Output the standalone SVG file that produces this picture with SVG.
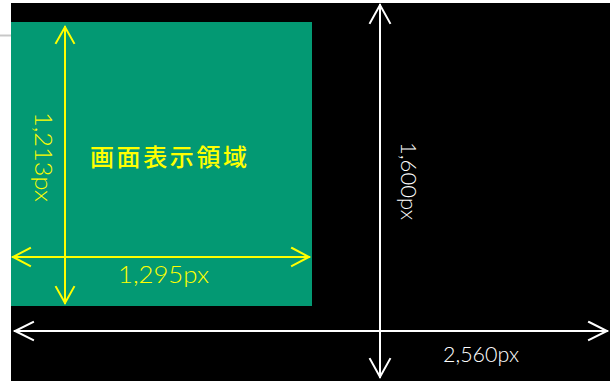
<svg xmlns="http://www.w3.org/2000/svg" width="610" height="381" viewBox="0 0 610 381">
<defs>
<style>
.lbl{font-family:"Lato","Liberation Sans","Noto Sans CJK JP",sans-serif;font-weight:300;}
.y{fill:#ffff00;}
.w{fill:#ffffff;}
.ys{stroke:#ffff00;stroke-width:2;fill:none;stroke-linecap:square;}
.ws{stroke:#ffffff;stroke-width:2;fill:none;stroke-linecap:square;}
.jp{font-family:"Noto Sans CJK JP",sans-serif;font-weight:500;}
</style>
</defs>
<rect x="0" y="0" width="610" height="381" fill="#ffffff"/>
<line x1="0" y1="35.5" x2="11" y2="35.5" stroke="#c8c8c8" stroke-width="2"/>
<g id="screen">
<rect x="11" y="3" width="599" height="378" fill="#000000"/>
</g>
<g id="display-area">
<rect x="11" y="22" width="301" height="284" fill="#039973"/>
<text class="jp y" x="90" y="166" font-size="24" textLength="157" lengthAdjust="spacing">画面表示領域</text>
</g>
<g id="connectors">
<line class="ys" x1="65" y1="27" x2="65" y2="303"/>
<polyline class="ys" points="56,43 65,27 74,43"/>
<polyline class="ys" points="56,287 65,303 74,287"/>
<line class="ys" x1="13" y1="257" x2="309" y2="257"/>
<polyline class="ys" points="30,248 13,257 30,266"/>
<polyline class="ys" points="292,248 309,257 292,266"/>
<line class="ws" x1="15" y1="331" x2="607" y2="331"/>
<polyline class="ws" points="33,322 15,331 33,340"/>
<polyline class="ws" points="589,322 607,331 589,340"/>
<line class="ws" x1="380" y1="5" x2="380" y2="377"/>
<polyline class="ws" points="370,23 380,5 390,23"/>
<polyline class="ws" points="370,359 380,377 390,359"/>
</g>
<g id="labels">
<text class="lbl y" x="118" y="283" font-size="23" textLength="91" lengthAdjust="spacingAndGlyphs">1,295px</text>
<text class="lbl y" transform="translate(35,112) rotate(90)" x="0" y="0" font-size="23" textLength="90" lengthAdjust="spacingAndGlyphs">1,213px</text>
<text class="lbl w" x="443" y="362" font-size="21" textLength="76" lengthAdjust="spacingAndGlyphs">2,560px</text>
<text class="lbl w" transform="translate(401,142) rotate(90)" x="0" y="0" font-size="21" textLength="78" lengthAdjust="spacingAndGlyphs">1,600px</text>
</g>
</svg>
